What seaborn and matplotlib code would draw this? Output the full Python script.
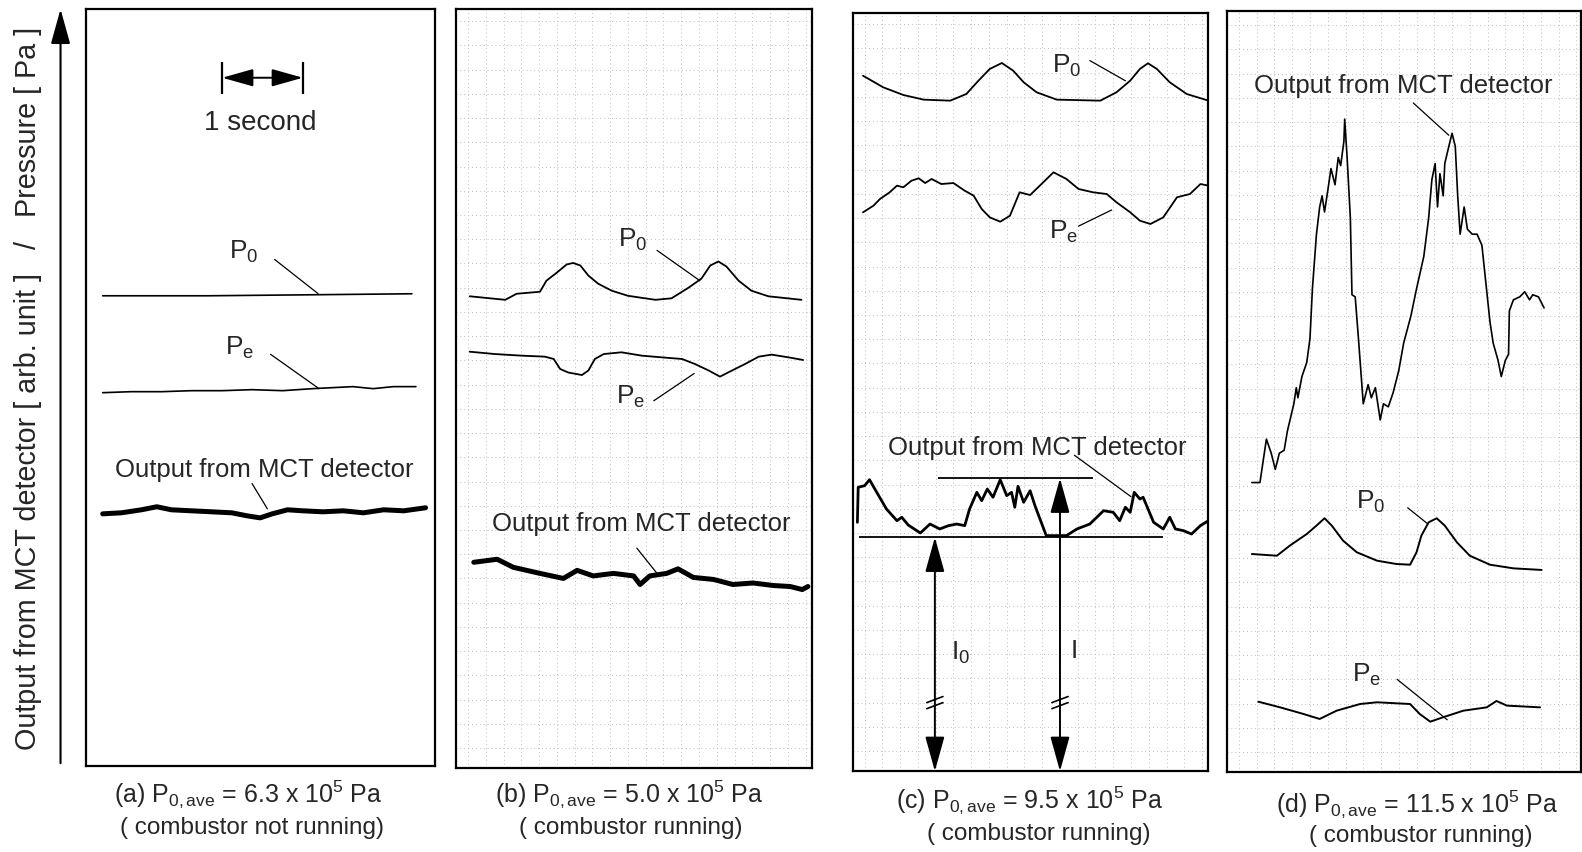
import numpy as np
import pandas as pd
import matplotlib
matplotlib.use("Agg")
import matplotlib.pyplot as plt
import seaborn as sns

# ---------------- data (time in s, signal in arb. units) ----------------
# panel (a)
a_p0_t = [0.21, 1.50, 2.80, 4.04]
a_p0_v = [46.6, 46.6, 46.7, 46.8]
a_pe_t = [0.21, 0.56, 0.94, 1.31, 1.69, 2.06, 2.44, 2.81, 3.06, 3.31, 3.56, 3.81, 4.09]
a_pe_v = [37.0, 37.1, 37.1, 37.2, 37.2, 37.3, 37.2, 37.4, 37.5, 37.6, 37.4, 37.6, 37.6]
a_mct_t = [0.21, 0.44, 0.69, 0.88, 1.06, 1.31, 1.56, 1.81, 2.00, 2.16, 2.31, 2.50, 2.69,
           2.94, 3.19, 3.44, 3.69, 3.94, 4.21]
a_mct_v = [25.0, 25.1, 25.4, 25.7, 25.4, 25.3, 25.2, 25.1, 24.8, 24.6, 25.0, 25.4, 25.3,
           25.2, 25.3, 25.1, 25.4, 25.3, 25.6]

# panel (b)
b_p0_t = [0.17, 0.61, 0.75, 1.04, 1.12, 1.25, 1.37, 1.45, 1.54, 1.64, 1.76, 1.93, 2.13, 2.47,
          2.67, 2.88, 3.04, 3.15, 3.25, 3.35, 3.50, 3.66, 3.87, 4.28]
b_p0_v = [46.75, 46.4, 47.0, 47.2, 48.3, 49.1, 49.9, 50.05, 49.8, 48.8, 48.0, 47.3, 46.8, 46.4,
          46.55, 47.6, 48.5, 49.8, 50.2, 49.7, 48.3, 47.3, 46.75, 46.4]
b_pe_t = [0.17, 0.48, 0.81, 1.10, 1.21, 1.29, 1.39, 1.56, 1.64, 1.72, 1.83, 2.05, 2.30, 2.55,
          2.80, 2.96, 3.13, 3.27, 3.42, 3.58, 3.75, 3.91, 4.12, 4.30]
b_pe_v = [41.26, 41.03, 40.87, 40.77, 40.54, 39.55, 39.2, 38.95, 39.4, 40.54, 41.03, 41.2, 40.87,
          40.7, 40.54, 40.04, 39.4, 38.79, 39.4, 40.04, 40.77, 40.97, 40.7, 40.44]
b_mct_t = [0.22, 0.51, 0.71, 1.04, 1.33, 1.50, 1.70, 1.95, 2.20, 2.28, 2.40, 2.61, 2.75, 2.94,
           3.19, 3.43, 3.68, 3.93, 4.14, 4.29, 4.36]
b_mct_v = [20.4, 20.7, 19.9, 19.3, 18.8, 19.6, 19.05, 19.3, 19.05, 18.2, 19.05, 19.3, 19.75, 18.9,
           18.7, 18.2, 18.35, 18.1, 18.0, 17.7, 18.0]

# panel (c)
c_p0_t = [0.13, 0.38, 0.63, 0.88, 1.21, 1.41, 1.56, 1.70, 1.85, 1.99, 2.12, 2.28, 2.53, 3.07,
          3.27, 3.44, 3.56, 3.66, 3.77, 3.93, 4.14, 4.41]
c_p0_v = [68.9, 67.75, 66.99, 66.53, 66.43, 67.09, 68.41, 69.57, 70.16, 69.4, 68.25, 67.26, 66.53,
          66.43, 67.26, 68.41, 69.57, 70.13, 69.57, 68.25, 67.09, 66.43]
c_pe_t = [0.13, 0.26, 0.34, 0.46, 0.55, 0.63, 0.73, 0.82, 0.90, 0.98, 1.10, 1.25, 1.39, 1.50,
          1.60, 1.70, 1.83, 1.95, 2.07, 2.20, 2.32, 2.49, 2.65, 2.80, 2.98, 3.15, 3.27, 3.44,
          3.56, 3.69, 3.85, 4.02, 4.18, 4.31, 4.41]
c_pe_v = [55.37, 56.03, 56.69, 57.35, 58.01, 57.85, 58.5, 58.74, 58.27, 58.67, 58.17, 58.27, 57.51,
          57.02, 55.7, 54.87, 54.44, 55.03, 57.35, 57.08, 58.01, 59.33, 58.67, 57.68, 57.35, 57.18,
          56.36, 55.37, 54.54, 54.21, 54.87, 56.86, 57.18, 58.17, 58.01]
c_mct_t = [0.06, 0.07, 0.15, 0.21, 0.30, 0.42, 0.55, 0.61, 0.69, 0.84, 0.96, 1.08, 1.19, 1.29,
           1.39, 1.45, 1.54, 1.60, 1.67, 1.74, 1.83, 1.91, 1.97, 2.01, 2.05, 2.12, 2.20, 2.26,
           2.40, 2.65, 2.78, 2.94, 3.11, 3.23, 3.31, 3.38, 3.44, 3.49, 3.56, 3.60, 3.73, 3.85,
           3.93, 4.00, 4.10, 4.20, 4.31, 4.41]
c_mct_v = [24.66, 28.13, 28.29, 28.88, 27.63, 25.98, 24.82, 25.16, 24.39, 23.6, 24.49, 24.0, 24.33,
           24.49, 24.33, 25.98, 27.63, 26.8, 27.96, 27.14, 28.88, 27.3, 27.63, 26.15, 28.23, 26.64,
           27.79, 26.31, 23.34, 23.34, 24.0, 24.49, 25.81, 25.65, 24.82, 26.15, 25.65, 27.63, 26.97,
           27.14, 24.66, 24.0, 25.16, 24.0, 23.83, 23.5, 24.33, 24.82]
c_level_I0 = 23.17
c_level_I = 29.02

# panel (d)
d_mct_t = [0.31, 0.41, 0.49, 0.55, 0.60, 0.65, 0.71, 0.75, 0.83, 0.86, 0.88, 0.93, 0.99, 1.03, 1.06,
           1.11, 1.15, 1.18, 1.21, 1.25, 1.29, 1.34, 1.38, 1.41, 1.45, 1.46, 1.49, 1.53, 1.55, 1.59,
           1.63, 1.69, 1.75, 1.79, 1.84, 1.90, 1.94, 2.00, 2.06, 2.13, 2.19, 2.28, 2.35, 2.44, 2.50,
           2.54, 2.58, 2.61, 2.64, 2.68, 2.70, 2.75, 2.79, 2.83, 2.86, 2.89, 2.94, 2.98, 3.04, 3.10,
           3.16, 3.21, 3.26, 3.30, 3.36, 3.40, 3.45, 3.49, 3.50, 3.55, 3.63, 3.69, 3.75, 3.79, 3.86, 3.93]
d_mct_v = [28.7, 28.7, 33.0, 31.6, 30.0, 31.6, 31.9, 33.8, 36.5, 38.1, 37.1, 39.2, 40.6, 43.0, 47.9,
           53.3, 56.0, 57.1, 55.5, 57.6, 59.8, 58.2, 60.9, 60.1, 62.5, 64.7, 60.9, 54.9, 47.3, 47.1,
           43.0, 36.5, 38.4, 37.1, 38.1, 34.9, 36.5, 36.2, 37.6, 39.8, 42.5, 45.2, 47.9, 51.1, 54.9,
           58.7, 60.3, 56.0, 59.3, 57.1, 60.3, 62.0, 63.3, 62.0, 57.1, 53.3, 56.0, 53.8, 53.3, 53.3,
           52.2, 48.4, 44.6, 42.5, 40.8, 39.2, 40.8, 41.4, 45.7, 46.8, 47.1, 47.6, 46.8, 47.3, 47.1, 46.0]
d_p0_t = [0.31, 0.62, 0.78, 0.99, 1.11, 1.21, 1.30, 1.44, 1.61, 1.86, 2.10, 2.27, 2.35, 2.41,
          2.50, 2.60, 2.70, 2.85, 3.01, 3.26, 3.55, 3.90]
d_p0_v = [21.62, 21.45, 22.45, 23.6, 24.43, 25.16, 24.43, 22.94, 21.79, 20.96, 20.63, 20.56, 21.79,
          23.44, 24.76, 25.16, 24.43, 22.78, 21.45, 20.56, 20.2, 20.04]
d_pe_t = [0.39, 0.66, 0.95, 1.15, 1.36, 1.65, 1.86, 2.27, 2.39, 2.52, 2.68, 2.93, 3.22, 3.34, 3.47, 3.88]
d_pe_v = [6.99, 6.43, 5.77, 5.28, 6.1, 6.76, 6.93, 6.76, 5.77, 5.01, 5.45, 6.1, 6.43, 7.06, 6.6, 6.43]

captions = [
    (r"(a) P$_{\mathrm{0,ave}}$ = 6.3 x 10$^{5}$ Pa", "( combustor not running)"),
    (r"(b) P$_{\mathrm{0,ave}}$ = 5.0 x 10$^{5}$ Pa", "( combustor running)"),
    (r"(c) P$_{\mathrm{0,ave}}$ = 9.5 x 10$^{5}$ Pa", "( combustor running)"),
    (r"(d) P$_{\mathrm{0,ave}}$ = 11.5 x 10$^{5}$ Pa", "( combustor running)"),
]
y_label = "Output from MCT detector [ arb. unit ]   /   Pressure [ Pa ]"

# ---------------- style ----------------
sns.set_theme(style="white")
plt.rcParams["font.family"] = ["Liberation Sans", "DejaVu Sans"]
plt.rcParams["mathtext.fontset"] = "custom"
plt.rcParams["mathtext.rm"] = "Liberation Sans"
plt.rcParams["mathtext.it"] = "Liberation Sans:italic"
plt.rcParams["mathtext.bf"] = "Liberation Sans:bold"

W, H = 1568.0, 845.0   # layout reference frame
fig = plt.figure(figsize=(15.82, 8.53), dpi=100)
fig.patch.set_facecolor("white")

PX_PER_S = 80.0
PX_PER_U = 10.0
panels = {"a": (85, 431, 10, 760), "b": (452, 805, 10, 762),
          "c": (845, 1197, 14, 765), "d": (1216, 1567, 12, 766)}
axes = {}
for k, (L, R, T, B) in panels.items():
    ax = fig.add_axes([L / W, 1 - B / H, (R - L) / W, (B - T) / H])
    ax.set_xlim(0, (R - L) / PX_PER_S)
    ax.set_ylim(0, (B - T) / PX_PER_U)
    ax.set_facecolor("white")
    for s in ax.spines.values():
        s.set_visible(True)
        s.set_color("black")
        s.set_linewidth(1.6)
    if k != "a":
        ax.set_xticks(np.arange(0.15, (R - L) / PX_PER_S, 0.22))
        ax.set_yticks(np.arange(2, (B - T) / PX_PER_U, 2.4))
        ax.grid(True, color="#bdbdbd", linestyle=(0, (1, 3)), linewidth=0.7)
    ax.tick_params(length=0, labelbottom=False, labelleft=False)
    ax.set_xlabel("")
    ax.set_ylabel("")
    axes[k] = ax


def trace(ax, t, v, lw):
    df = pd.DataFrame({"t": t, "v": v})
    sns.lineplot(data=df, x="t", y="v", ax=ax, color="black", linewidth=lw,
                 sort=False, estimator=None, legend=False)
    ax.set_xlabel("")
    ax.set_ylabel("")


def leader(ax, p, q):
    ax.plot([p[0], q[0]], [p[1], q[1]], color="black", lw=0.9)


FS_LBL = 18.5
FS_P = 19

# ---- panel a ----
ax = axes["a"]
trace(ax, a_p0_t, a_p0_v, 1.2)
trace(ax, a_pe_t, a_pe_v, 1.2)
trace(ax, a_mct_t, a_mct_v, 3.6)
ax.annotate("", xy=(1.69, 68.2), xytext=(2.69, 68.2),
            arrowprops=dict(arrowstyle="<|-|>,head_length=1.6,head_width=0.45",
                            mutation_scale=12, color="black", lw=1.4, shrinkA=0, shrinkB=0))
ax.vlines([1.69, 2.69], 66.6, 69.8, color="black", lw=1.6)
ax.text(2.16, 63.8, "1 second", ha="center", va="center", fontsize=20)
ax.text(1.96, 51.0, r"P$_{0}$", ha="center", va="center", fontsize=FS_P)
leader(ax, (2.34, 50.2), (2.88, 46.8))
ax.text(1.91, 41.5, r"P$_{\mathrm{e}}$", ha="center", va="center", fontsize=FS_P)
leader(ax, (2.29, 40.8), (2.89, 37.4))
ax.text(2.21, 29.4, "Output from MCT detector", ha="center", va="center", fontsize=FS_LBL)
leader(ax, (2.06, 28.0), (2.25, 25.5))

# ---- panel b ----
ax = axes["b"]
trace(ax, b_p0_t, b_p0_v, 1.3)
trace(ax, b_pe_t, b_pe_v, 1.3)
trace(ax, b_mct_t, b_mct_v, 3.6)
ax.text(2.19, 52.4, r"P$_{0}$", ha="center", va="center", fontsize=FS_P)
leader(ax, (2.49, 51.3), (3.02, 48.3))
ax.text(2.16, 36.9, r"P$_{\mathrm{e}}$", ha="center", va="center", fontsize=FS_P)
leader(ax, (2.45, 36.4), (2.95, 39.1))
ax.text(2.29, 24.3, "Output from MCT detector", ha="center", va="center", fontsize=FS_LBL)
leader(ax, (2.24, 21.8), (2.49, 19.3))

# ---- panel c ----
ax = axes["c"]
trace(ax, c_p0_t, c_p0_v, 1.3)
trace(ax, c_pe_t, c_pe_v, 1.3)
trace(ax, c_mct_t, c_mct_v, 2.0)
ax.hlines(c_level_I0, 0.08, 3.85, color="black", lw=1.3)
ax.hlines(c_level_I, 1.06, 2.98, color="black", lw=1.3)
for tx, top in [(1.02, c_level_I0), (2.57, c_level_I)]:
    ax.annotate("", xy=(tx, top), xytext=(tx, 0.0),
                arrowprops=dict(arrowstyle="<|-|>,head_length=1.8,head_width=0.5",
                                mutation_scale=12, color="black", lw=1.4,
                                shrinkA=0, shrinkB=0))
    for off in (0.0, 0.6):
        ax.plot([tx - 0.1, tx + 0.1], [6.2 + off, 6.8 + off], color="black", lw=1.2)
ax.text(1.34, 11.8, r"I$_{0}$", ha="center", va="center", fontsize=FS_P)
ax.text(2.75, 12.0, "I", ha="center", va="center", fontsize=FS_P)
ax.text(2.29, 32.1, "Output from MCT detector", ha="center", va="center", fontsize=FS_LBL)
leader(ax, (2.75, 31.3), (3.45, 27.2))
ax.text(2.65, 70.0, r"P$_{0}$", ha="center", va="center", fontsize=FS_P)
leader(ax, (2.94, 70.4), (3.38, 68.4))
ax.text(2.61, 53.5, r"P$_{\mathrm{e}}$", ha="center", va="center", fontsize=FS_P)
leader(ax, (2.80, 54.0), (3.21, 55.6))

# ---- panel d ----
ax = axes["d"]
trace(ax, d_mct_t, d_mct_v, 1.2)
trace(ax, d_p0_t, d_p0_v, 1.4)
trace(ax, d_pe_t, d_pe_v, 1.4)
ax.text(2.18, 68.1, "Output from MCT detector", ha="center", va="center", fontsize=FS_LBL)
leader(ax, (2.31, 66.3), (2.75, 63.1))
ax.text(1.78, 26.9, r"P$_{0}$", ha="center", va="center", fontsize=FS_P)
leader(ax, (2.24, 26.2), (2.49, 24.6))
ax.text(1.73, 9.7, r"P$_{\mathrm{e}}$", ha="center", va="center", fontsize=FS_P)
leader(ax, (2.11, 9.2), (2.73, 5.2))

# ---- captions ----
cap_pos = [(246, 787, 250, 820), (624, 787, 625, 820), (1020, 793, 1030, 826), (1405, 797, 1408, 828)]
for (l1, l2), (x1, y1, x2, y2) in zip(captions, cap_pos):
    fig.text(x1 / W, 1 - y1 / H, l1, ha="center", va="center", fontsize=18)
    fig.text(x2 / W, 1 - y2 / H, l2, ha="center", va="center", fontsize=17.5)

# ---- global y label and arrow ----
fig.text(28 / W, 1 - 385 / H, y_label, rotation=90, ha="center", va="center",
         fontsize=20.7, family=["Liberation Sans Narrow", "Liberation Sans", "DejaVu Sans"])
fig.patches.append(matplotlib.patches.FancyArrowPatch(
    (60 / W, 1 - 757 / H), (60 / W, 1 - 10 / H), transform=fig.transFigure,
    arrowstyle="-|>,head_length=1.8,head_width=0.5", mutation_scale=12,
    color="black", lw=1.5, shrinkA=0, shrinkB=0))

fig.savefig("out.png", dpi=100, facecolor="white")
